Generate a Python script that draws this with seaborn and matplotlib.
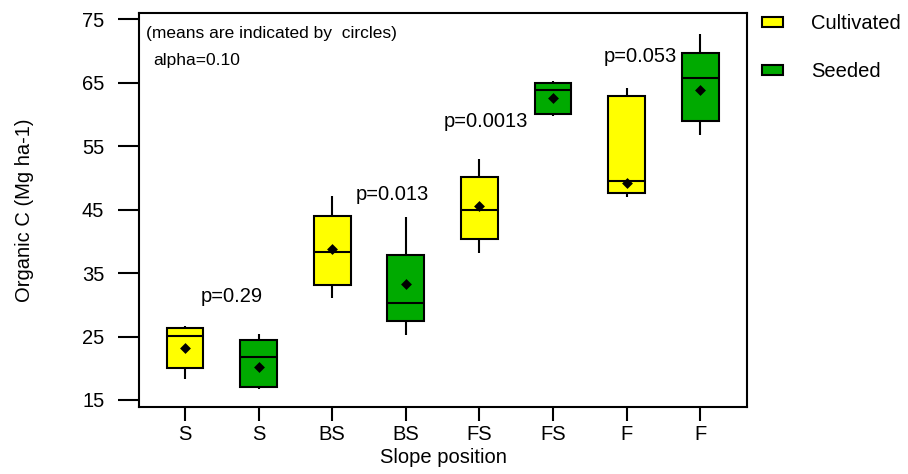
import matplotlib
matplotlib.use("Agg")
import matplotlib.pyplot as plt
from matplotlib.patches import Patch
import numpy as np
import pandas as pd
import seaborn as sns

# one box per slope position / treatment, left to right
box_ids = ["0", "1", "2", "3", "4", "5", "6", "7"]
slope_labels = ["S", "S", "BS", "BS", "FS", "FS", "F", "F"]
treatment = ["Cultivated", "Seeded"] * 4

# five-number summaries (Mg ha-1)
whisker_low = [18.3, 16.8, 31.1, 25.3, 38.1, 59.8, 47.0, 56.7]
q1 = [20.1, 17.0, 33.1, 27.5, 40.3, 60.1, 47.6, 59.0]
median = [25.1, 21.8, 38.3, 30.3, 44.9, 63.9, 49.5, 65.7]
q3 = [26.3, 24.4, 44.0, 37.8, 50.1, 65.0, 62.9, 69.6]
whisker_high = [26.7, 25.4, 47.1, 43.8, 52.9, 65.2, 64.2, 72.7]
means = [23.2, 20.2, 38.8, 33.3, 45.6, 62.6, 49.1, 63.8]

# p-values and where they sit
p_labels = ["p=0.29", "p=0.013", "p=0.0013", "p=0.053"]
p_x = [0.64, 2.81, 4.09, 6.18]
p_y = [31.3, 47.4, 58.8, 69.1]

colors = {"Cultivated": "#FFFF00", "Seeded": "#00AA00"}

sns.set_style("ticks")
plt.rcParams["font.family"] = ["Liberation Sans", "DejaVu Sans"]
plt.rcParams["text.color"] = "black"
plt.rcParams["axes.labelcolor"] = "black"
plt.rcParams["xtick.color"] = "black"
plt.rcParams["ytick.color"] = "black"

# long table for seaborn: the five summary values of every box
rows = []
for i, bid in enumerate(box_ids):
    for v in (whisker_low[i], q1[i], median[i], q3[i], whisker_high[i]):
        rows.append({"box": bid, "value": v, "group": treatment[i]})
df = pd.DataFrame(rows)

fig = plt.figure(figsize=(9.08, 4.74), dpi=100)
ax = fig.add_axes([0.1531, 0.1414, 0.6696, 0.8318])

sns.boxplot(data=df, x="box", y="value", hue="group", order=box_ids,
            palette=colors, saturation=1, dodge=False, width=0.5,
            whis=(0, 100), linecolor="black", linewidth=1.5,
            showcaps=False, legend=False, ax=ax)

sns.pointplot(x=box_ids, y=means, order=box_ids, color="black",
              marker="D", markersize=3.5, linestyle="none", errorbar=None,
              ax=ax)

for lab, x, y in zip(p_labels, p_x, p_y):
    ax.text(x, y, lab, ha="center", va="center", fontsize=14.5)

ax.text(0.012, 0.946, "(means are indicated by  circles)", transform=ax.transAxes,
        ha="left", va="center", fontsize=12.5)
ax.text(0.023, 0.880, "alpha=0.10", transform=ax.transAxes,
        ha="left", va="center", fontsize=12.5)

ax.set_xlim(-0.625, 7.636)
ax.set_ylim(13.9, 76.0)
ax.set_yticks(np.arange(15, 76, 10))
ax.set_xticks(range(len(box_ids)))
ax.set_xticklabels(slope_labels)
ax.tick_params(axis="y", length=15, width=1.5, pad=10, labelsize=14.5)
ax.tick_params(axis="x", length=10, width=1.5, pad=3, labelsize=14.5)
for sp in ax.spines.values():
    sp.set_visible(True)
    sp.set_linewidth(1.5)
    sp.set_color("black")

ax.set_xlabel("Slope position", fontsize=14.5)
ax.set_ylabel("Organic C (Mg ha-1)", fontsize=14.5)
ax.xaxis.set_label_coords(0.5, -0.105)
ax.yaxis.set_label_coords(-0.172, 0.5)

handles = [Patch(facecolor=colors[g], edgecolor="black", linewidth=1.5, label=g)
           for g in ["Cultivated", "Seeded"]]
fig.legend(handles=handles, loc="upper left", bbox_to_anchor=(762 / 908, 1 - 14 / 474),
           frameon=False, fontsize=14.5, handlelength=1.05, handleheight=0.35,
           handletextpad=1.4, labelspacing=1.45, borderpad=0, borderaxespad=0)

fig.savefig("out.png", dpi=100)
